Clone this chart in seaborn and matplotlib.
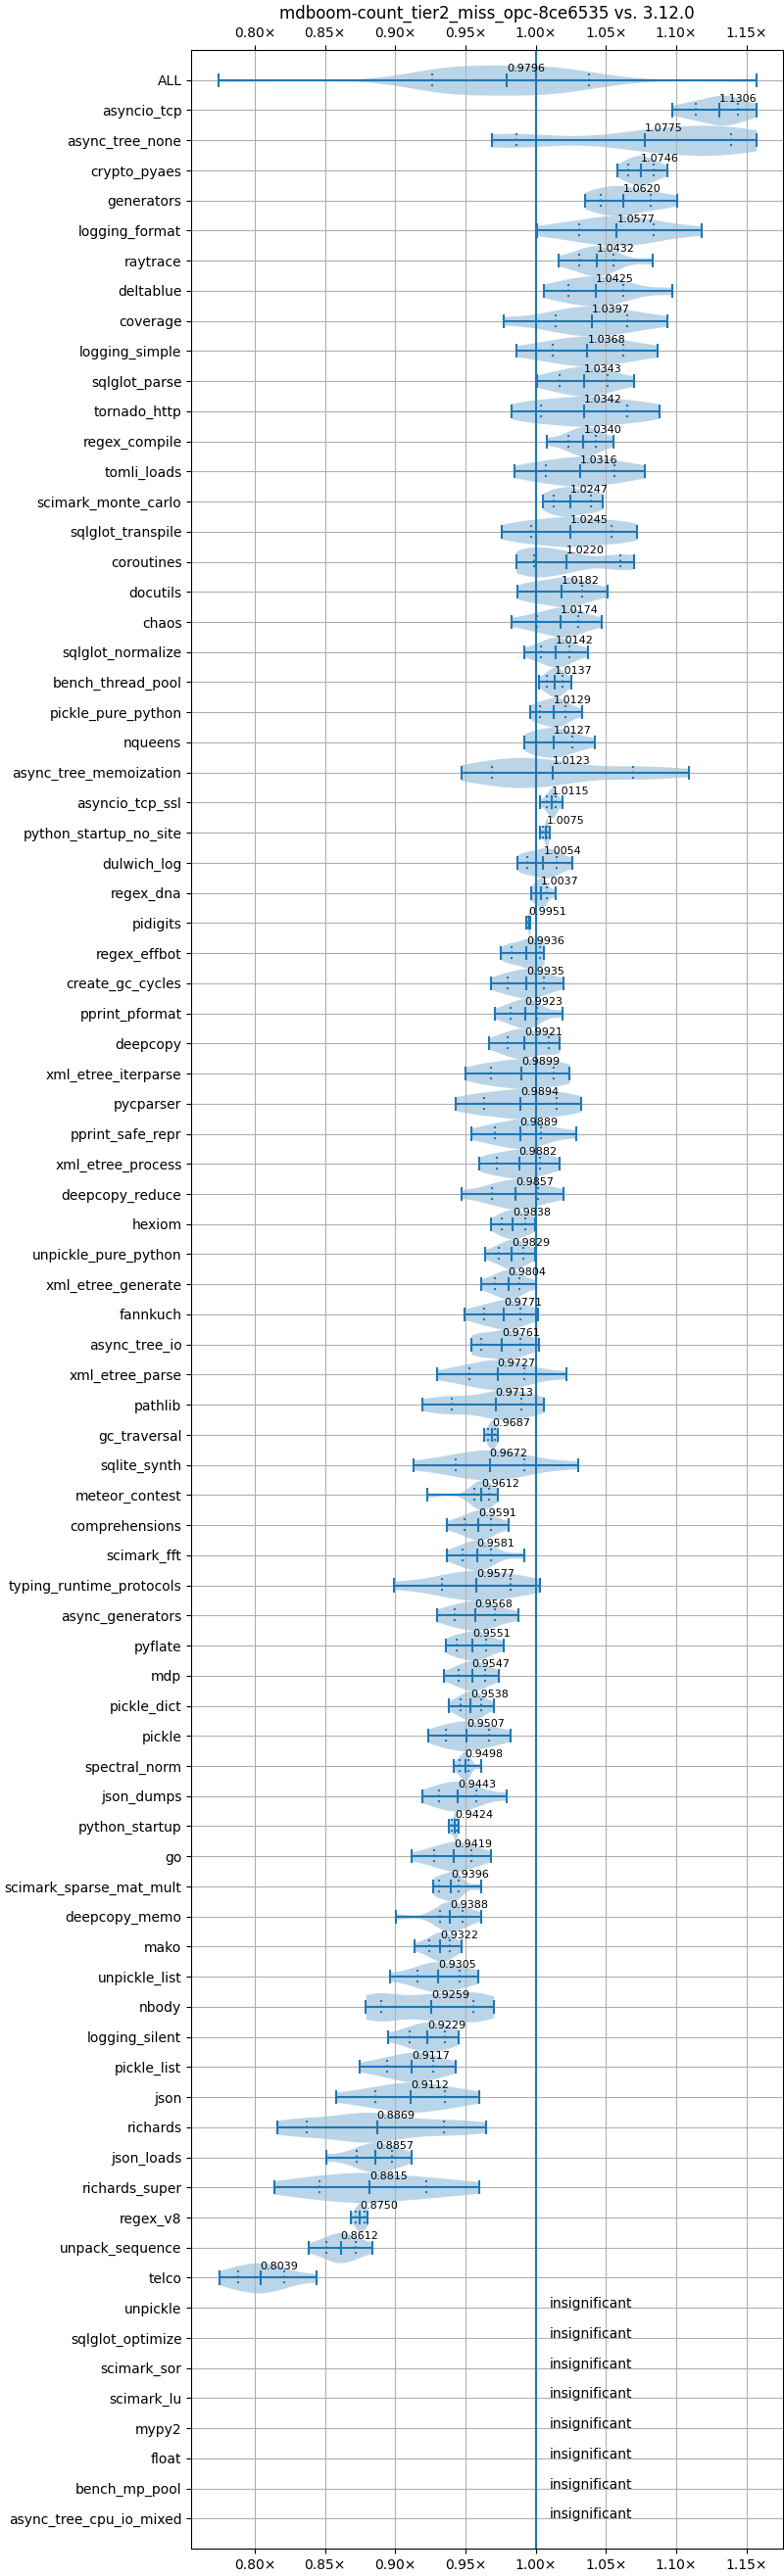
import matplotlib
matplotlib.use("Agg")
import matplotlib.pyplot as plt
import numpy as np
import pandas as pd
import seaborn as sns
from matplotlib.ticker import FuncFormatter

BLUE = "#1f77b4"
TITLE = "mdboom-count_tier2_miss_opc-8ce6535 vs. 3.12.0"

# significant benchmarks, top to bottom
benchmarks = [
    "ALL", "asyncio_tcp", "async_tree_none", "crypto_pyaes", "generators",
    "logging_format", "raytrace", "deltablue", "coverage", "logging_simple",
    "sqlglot_parse", "tornado_http", "regex_compile", "tomli_loads",
    "scimark_monte_carlo", "sqlglot_transpile", "coroutines", "docutils",
    "chaos", "sqlglot_normalize", "bench_thread_pool", "pickle_pure_python",
    "nqueens", "async_tree_memoization", "asyncio_tcp_ssl",
    "python_startup_no_site", "dulwich_log", "regex_dna", "pidigits",
    "regex_effbot", "create_gc_cycles", "pprint_pformat", "deepcopy",
    "xml_etree_iterparse", "pycparser", "pprint_safe_repr", "xml_etree_process",
    "deepcopy_reduce", "hexiom", "unpickle_pure_python", "xml_etree_generate",
    "fannkuch", "async_tree_io", "xml_etree_parse", "pathlib", "gc_traversal",
    "sqlite_synth", "meteor_contest", "comprehensions", "scimark_fft",
    "typing_runtime_protocols", "async_generators", "pyflate", "mdp",
    "pickle_dict", "pickle", "spectral_norm", "json_dumps", "python_startup",
    "go", "scimark_sparse_mat_mult", "deepcopy_memo", "mako", "unpickle_list",
    "nbody", "logging_silent", "pickle_list", "json", "richards", "json_loads",
    "richards_super", "regex_v8", "unpack_sequence", "telco",
]

mins = [
    0.774, 1.097, 0.969, 1.058, 1.035, 1.001, 1.016, 1.006, 0.977, 0.986,
    1.001, 0.983, 1.008, 0.985, 1.005, 0.976, 0.986, 0.987, 0.983, 0.992,
    1.002, 0.996, 0.992, 0.947, 1.003, 1.003, 0.987, 0.9965, 0.993, 0.975,
    0.968, 0.971, 0.967, 0.950, 0.943, 0.954, 0.960, 0.947, 0.968, 0.964,
    0.961, 0.949, 0.954, 0.930, 0.919, 0.963, 0.913, 0.923, 0.937, 0.9365,
    0.899, 0.9295, 0.936, 0.935, 0.9385, 0.9235, 0.9417, 0.919, 0.9385, 0.912,
    0.927, 0.9006, 0.914, 0.896, 0.879, 0.895, 0.875, 0.858, 0.816, 0.851,
    0.814, 0.8686, 0.8386, 0.7746,
]
q1s = [
    0.926, 1.114, 0.986, 1.066, 1.046, 1.031, 1.031, 1.023, 1.014, 1.012,
    1.017, 1.004, 1.023, 1.007, 1.013, 0.997, 0.999, 1.000, 1.001, 1.004,
    1.008, 1.003, 1.000, 0.969, 1.008, 1.005, 0.994, 1.000, 0.994, 0.983,
    0.980, 0.982, 0.980, 0.968, 0.9635, 0.971, 0.972, 0.969, 0.9755, 0.974,
    0.971, 0.963, 0.961, 0.953, 0.940, 0.966, 0.943, 0.956, 0.949, 0.948,
    0.933, 0.9425, 0.944, 0.945, 0.9466, 0.936, 0.946, 0.931, 0.940, 0.928,
    0.931, 0.932, 0.924, 0.916, 0.890, 0.910, 0.894, 0.886, 0.837, 0.8725,
    0.846, 0.872, 0.8507, 0.788,
]
means = [
    0.9796, 1.1306, 1.0775, 1.0746, 1.0620, 1.0577, 1.0432, 1.0425, 1.0397, 1.0368,
    1.0343, 1.0342, 1.0340, 1.0316, 1.0247, 1.0245, 1.0220, 1.0182, 1.0174, 1.0142,
    1.0137, 1.0129, 1.0127, 1.0123, 1.0115, 1.0075, 1.0054, 1.0037, 0.9951, 0.9936,
    0.9935, 0.9923, 0.9921, 0.9899, 0.9894, 0.9889, 0.9882, 0.9857, 0.9838, 0.9829,
    0.9804, 0.9771, 0.9761, 0.9727, 0.9713, 0.9687, 0.9672, 0.9612, 0.9591, 0.9581,
    0.9577, 0.9568, 0.9551, 0.9547, 0.9538, 0.9507, 0.9498, 0.9443, 0.9424, 0.9419,
    0.9396, 0.9388, 0.9322, 0.9305, 0.9259, 0.9229, 0.9117, 0.9112, 0.8869, 0.8857,
    0.8815, 0.8750, 0.8612, 0.8039,
]
q3s = [
    1.038, 1.144, 1.139, 1.084, 1.082, 1.084, 1.055, 1.062, 1.065, 1.062,
    1.051, 1.065, 1.043, 1.056, 1.039, 1.054, 1.060, 1.033, 1.030, 1.024,
    1.019, 1.021, 1.026, 1.069, 1.014, 1.008, 1.015, 1.0076, 0.9955, 1.003,
    1.006, 1.001, 1.0095, 1.0125, 1.015, 1.004, 1.003, 1.0014, 0.9924, 0.991,
    0.9886, 0.989, 0.989, 0.992, 0.990, 0.971, 0.992, 0.9665, 0.968, 0.968,
    0.982, 0.9706, 0.965, 0.964, 0.961, 0.9665, 0.952, 0.958, 0.9434, 0.954,
    0.945, 0.948, 0.939, 0.946, 0.9556, 0.9355, 0.927, 0.9355, 0.935, 0.898,
    0.922, 0.878, 0.872, 0.8207,
]
maxs = [
    1.157, 1.157, 1.157, 1.094, 1.101, 1.118, 1.083, 1.097, 1.094, 1.087,
    1.070, 1.088, 1.055, 1.078, 1.048, 1.072, 1.070, 1.051, 1.047, 1.037,
    1.025, 1.033, 1.042, 1.109, 1.019, 1.010, 1.026, 1.014, 0.996, 1.006,
    1.020, 1.019, 1.017, 1.024, 1.032, 1.029, 1.017, 1.020, 0.9995, 0.9995,
    1.0005, 1.0014, 1.002, 1.022, 1.006, 0.973, 1.030, 0.973, 0.981, 0.992,
    1.003, 0.988, 0.977, 0.974, 0.970, 0.982, 0.961, 0.979, 0.9453, 0.968,
    0.961, 0.961, 0.947, 0.959, 0.970, 0.945, 0.943, 0.960, 0.965, 0.912,
    0.960, 0.8804, 0.884, 0.8443,
]

# where the visible bulges of some violins sit
extra_points = {
    "ALL": [0.940, 0.942, 0.943, 0.943, 0.944, 0.946,
            1.005, 1.006, 1.007, 1.008, 1.008, 1.010],
    "async_tree_none": [1.11, 1.12, 1.13],
    "async_tree_memoization": [0.985, 0.99],
    "coroutines": [0.996, 0.998],
    "nbody": [0.89, 0.955],
    "richards": [0.87, 0.88],
    "meteor_contest": [0.961],
}

insignificant = [
    "unpickle", "sqlglot_optimize", "scimark_sor", "scimark_lu", "mypy2",
    "float", "bench_mp_pool", "async_tree_cpu_io_mixed",
]

rows = []
for i, name in enumerate(benchmarks):
    # quartiles and centre count more than the extremes, so the tails taper
    vals = ([mins[i]] + [q1s[i]] * 2 + [means[i]] * 3 + [q3s[i]] * 2 + [maxs[i]]
            + extra_points.get(name, []))
    rows += [(name, v) for v in vals]
df = pd.DataFrame(rows, columns=["benchmark", "ratio"])
order = benchmarks + insignificant

fig, ax = plt.subplots(figsize=(8, 26.3), dpi=100)
fig.subplots_adjust(left=0.244, right=0.999, top=0.9806, bottom=0.0106)

sns.violinplot(data=df, x="ratio", y="benchmark", order=order, orient="h",
               inner=None, cut=0, density_norm="width", width=1.0, bw_adjust=0.8,
               color=BLUE, saturation=1, linewidth=0, ax=ax)
for coll in ax.collections:
    coll.set_alpha(0.3)

ypos = np.arange(len(benchmarks))
cap = 0.23
ax.hlines(ypos, mins, maxs, color=BLUE, lw=1.5)
for arr in (mins, maxs, means):
    ax.vlines(arr, ypos - cap, ypos + cap, color=BLUE, lw=1.5)
for arr in (q1s, q3s):
    ax.vlines(arr, ypos - cap, ypos + cap, color=BLUE, lw=1.5, linestyles=":")

for y, m in zip(ypos, means):
    ax.text(m, y - 0.22, f"{m:.4f}", fontsize=8, ha="left", va="bottom")
for j, name in enumerate(insignificant):
    ax.text(1.01, len(benchmarks) + j, "insignificant", fontsize=10)

ax.axvline(1.0, color=BLUE, lw=1.5)

lo, hi = min(mins), max(maxs)
pad = (hi - lo) * 0.05
ax.set_xlim(lo - pad, hi + pad)
ax.set_ylim(len(order), -1)
ax.set_xticks(np.arange(0.80, 1.151, 0.05))
ax.xaxis.set_major_formatter(FuncFormatter(lambda v, p: f"{v:.2f}\u00d7"))
ax.tick_params(axis="x", top=True, labeltop=True)
ax.grid(True)
ax.set_xlabel("")
ax.set_ylabel("")
ax.set_title(TITLE, fontsize=12)

fig.savefig("out.png", dpi=100)
